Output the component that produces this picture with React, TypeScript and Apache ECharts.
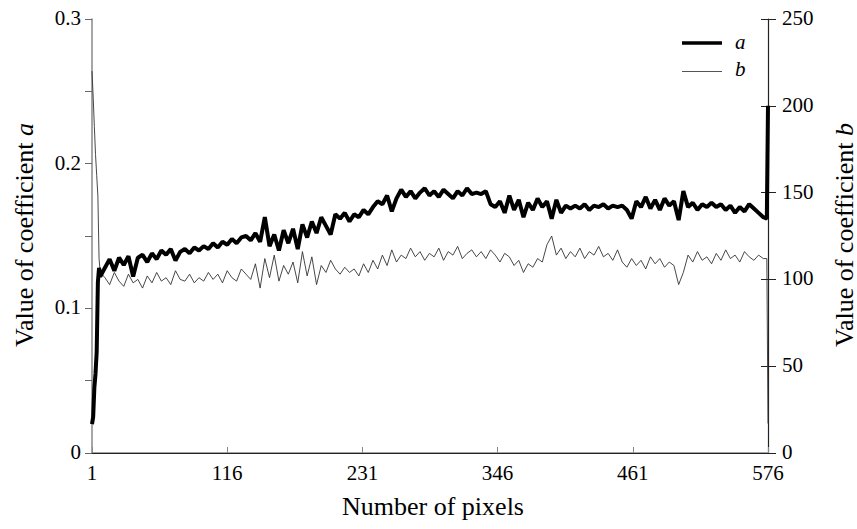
import React, { useEffect, useRef } from "react";
import * as echarts from "echarts";

// Sample positions (pixel index) – dense at the start, then every 4 pixels, then the last two
const startIdx = [1, 2, 3, 4, 5, 6, 7, 8];
const regularIdx = Array.from({ length: 141 }, (_, k) => 12 + 4 * k);
const endIdx = [575, 576];
const pixelIdx = [...startIdx, ...regularIdx, ...endIdx];

const legendNames = ["a", "b"];

// Tick labels
const xTickValues = [1, 116, 231, 346, 461, 576];
const leftTickValues = [0, 0.1, 0.2, 0.3];
const leftTickLabels = ["0", "0.1", "0.2", "0.3"];
const rightTickValues = [0, 50, 100, 150, 200, 250];

const xTitle = "Number of pixels";
const leftTitle = ["Value of coefficient ", "a"];
const rightTitle = ["Value of coefficient ", "b"];

// Coefficient a (left axis)
const coeffA = [
  0.02, 0.025, 0.045, 0.055, 0.07, 0.118, 0.128, 0.122,
  0.128, 0.134, 0.126, 0.135, 0.130, 0.136, 0.122, 0.135, 0.137, 0.132,
  0.138, 0.134, 0.140, 0.137, 0.141, 0.133, 0.139, 0.141, 0.138, 0.142,
  0.140, 0.143, 0.141, 0.145, 0.142, 0.146, 0.144, 0.148, 0.145, 0.149,
  0.150, 0.147, 0.152, 0.146, 0.163, 0.143, 0.151, 0.140, 0.154, 0.145,
  0.155, 0.141, 0.158, 0.149, 0.160, 0.152, 0.163, 0.157, 0.151, 0.165,
  0.162, 0.166, 0.160, 0.165, 0.163, 0.168, 0.165, 0.170, 0.174, 0.172,
  0.178, 0.167, 0.176, 0.182, 0.177, 0.181, 0.176, 0.180, 0.183, 0.178,
  0.181, 0.177, 0.182, 0.179, 0.176, 0.181, 0.178, 0.183, 0.179, 0.180,
  0.179, 0.181, 0.172, 0.170, 0.174, 0.166, 0.178, 0.168, 0.175, 0.163,
  0.173, 0.168, 0.176, 0.170, 0.174, 0.162, 0.175, 0.166, 0.171, 0.169,
  0.171, 0.169, 0.172, 0.168, 0.171, 0.170, 0.172, 0.169, 0.171, 0.170,
  0.171, 0.168, 0.162, 0.174, 0.170, 0.177, 0.169, 0.175, 0.168, 0.176,
  0.171, 0.174, 0.161, 0.181, 0.170, 0.173, 0.168, 0.172, 0.170, 0.173,
  0.170, 0.172, 0.168, 0.171, 0.166, 0.170, 0.167, 0.172, 0.169, 0.166, 0.163,
  0.162, 0.24,
];

// Coefficient b (right axis)
const coeffB = [
  220, 205, 188, 172, 160, 148, 112, 104,
  101, 97, 104, 99, 96, 103, 98, 100, 95, 102,
  98, 104, 99, 101, 97, 105, 100, 99, 103, 98,
  101, 99, 104, 100, 103, 98, 105, 101, 99, 106,
  103, 100, 109, 95, 112, 101, 114, 99, 108, 103,
  110, 98, 116, 102, 113, 97, 108, 104, 111, 106,
  103, 107, 104, 106, 102, 109, 104, 111, 106, 114,
  108, 117, 110, 114, 112, 118, 113, 116, 111, 115,
  113, 118, 111, 116, 114, 119, 112, 115, 117, 113,
  116, 112, 117, 114, 110, 115, 113, 108, 111, 104,
  109, 107, 112, 110, 120, 125, 114, 118, 112, 116,
  113, 118, 112, 116, 114, 119, 113, 115, 111, 117,
  110, 107, 112, 108, 111, 106, 113, 109, 112, 107,
  110, 108, 97, 104, 114, 110, 116, 111, 113, 109,
  115, 111, 117, 112, 114, 110, 116, 113, 111, 114, 112,
  112, 17,
];

const FONT = "Liberation Serif";
const TICK_SIZE = 21;
const TITLE_SIZE = 26;

function measure(text: string, size: number, italic: boolean) {
  const ctx = document.createElement("canvas").getContext("2d");
  if (!ctx) return text.length * size * 0.45;
  ctx.font = `${italic ? "italic " : ""}${size}px "${FONT}"`;
  return ctx.measureText(text).width;
}

function txt(text: string, x: number, y: number, size: number, align: string, vAlign: string, italic = false) {
  return {
    type: "text",
    x,
    y,
    silent: true,
    style: {
      text,
      fontFamily: FONT,
      fontSize: size,
      fontStyle: italic ? "italic" : "normal",
      fill: "#000",
      align,
      verticalAlign: vAlign,
    },
  };
}

function rotatedTitle(parts: string[], cx: number, cy: number) {
  const w1 = measure(parts[0], TITLE_SIZE, false);
  const w2 = measure(parts[1], TITLE_SIZE, true);
  const start = -(w1 + w2) / 2;
  return {
    type: "group",
    x: cx,
    y: cy,
    rotation: Math.PI / 2,
    children: [
      txt(parts[0], start, 0, TITLE_SIZE, "left", "middle"),
      txt(parts[1], start + w1, 0, TITLE_SIZE, "left", "middle", true),
    ],
  };
}

export default function App() {
  const ref = useRef<HTMLDivElement>(null);
  useEffect(() => {
    document.body.style.margin = "0";
    const chart = echarts.init(ref.current!, null, { renderer: "svg" });
    const dataA = pixelIdx.map((x, i) => [x, coeffA[i]]);
    const dataB = pixelIdx.map((x, i) => [x, coeffB[i]]);
    chart.setOption({
      animation: false,
      backgroundColor: "#fff",
      grid: { left: 92, right: 89, top: 19, bottom: 76, containLabel: false },
      xAxis: [
        {
          type: "value",
          min: 1,
          max: 576,
          interval: 115,
          axisLine: { lineStyle: { color: "#888", width: 1.5 } },
          axisTick: { inside: true, length: 6, lineStyle: { color: "#888" } },
          axisLabel: { show: false },
          splitLine: { show: false },
        },
        {
          type: "value",
          min: 1,
          max: 576,
          position: "top",
          axisLine: { show: true, lineStyle: { color: "#222", width: 1.2 } },
          axisTick: { show: false },
          axisLabel: { show: false },
          splitLine: { show: false },
        },
      ],
      yAxis: [
        {
          type: "value",
          min: 0,
          max: 0.3,
          interval: 0.05,
          position: "left",
          axisLine: { show: true, lineStyle: { color: "#888", width: 1.5 } },
          axisTick: { show: true, length: 7, lineStyle: { color: "#666" } },
          axisLabel: { show: false },
          splitLine: { show: false },
        },
        {
          type: "value",
          min: 0,
          max: 250,
          interval: 50,
          position: "right",
          axisLine: { show: true, lineStyle: { color: "#222", width: 1.2 } },
          axisTick: { show: true, length: 8, lineStyle: { color: "#222" } },
          axisLabel: { show: false },
          splitLine: { show: false },
        },
        {
          type: "value",
          min: 0,
          max: 250,
          interval: 50,
          position: "right",
          axisLine: { show: false },
          axisTick: { show: true, inside: true, length: 7, lineStyle: { color: "#222" } },
          axisLabel: { show: false },
          splitLine: { show: false },
        },
      ],
      series: [
        {
          name: "b",
          type: "line",
          xAxisIndex: 0,
          yAxisIndex: 1,
          data: dataB,
          symbol: "none",
          lineStyle: { color: "#333", width: 0.9 },
          itemStyle: { color: "#333" },
          z: 2,
        },
        {
          name: "a",
          type: "line",
          xAxisIndex: 0,
          yAxisIndex: 0,
          data: dataA,
          symbol: "none",
          lineStyle: { color: "#000", width: 4 },
          itemStyle: { color: "#000" },
          z: 3,
        },
      ],
    });

    // Axis texts placed through the chart's own scales
    const xPix = (v: number) => chart.convertToPixel({ xAxisIndex: 0 }, v) as number;
    const yLeft = (v: number) => chart.convertToPixel({ yAxisIndex: 0 }, v) as number;
    const yRight = (v: number) => chart.convertToPixel({ yAxisIndex: 1 }, v) as number;
    const gx0 = xPix(1);
    const gx1 = xPix(576);
    const gy0 = yLeft(0);
    const gy1 = yLeft(0.3);
    const midY = (gy0 + gy1) / 2 - 1;

    const graphics: any[] = [
      ...xTickValues.map((v) => txt(String(v), xPix(v), gy0 + 20, TICK_SIZE, "center", "middle")),
      ...leftTickValues.map((v, i) => txt(leftTickLabels[i], gx0 - 11, yLeft(v) - 1, TICK_SIZE, "right", "middle")),
      ...rightTickValues.map((v) => txt(String(v), gx1 + 14, yRight(v) - 1, TICK_SIZE, "left", "middle")),
      txt(xTitle, (gx0 + gx1) / 2 + 3, gy0 + 53, TITLE_SIZE, "center", "middle"),
      rotatedTitle(leftTitle, 24, midY),
      rotatedTitle(rightTitle, 844, midY),
      // legend
      { type: "line", shape: { x1: 682, y1: 43, x2: 722, y2: 43 }, style: { stroke: "#000", lineWidth: 3.5 } },
      { type: "line", shape: { x1: 682, y1: 71.5, x2: 722, y2: 71.5 }, style: { stroke: "#555", lineWidth: 1 } },
      txt(legendNames[0], 735, 42, 21, "left", "middle", true),
      txt(legendNames[1], 735, 69, 21, "left", "middle", true),
    ];
    chart.setOption({ graphic: graphics });
    return () => chart.dispose();
  }, []);
  return <div ref={ref} style={{ width: 857, height: 529 }} />;
}
